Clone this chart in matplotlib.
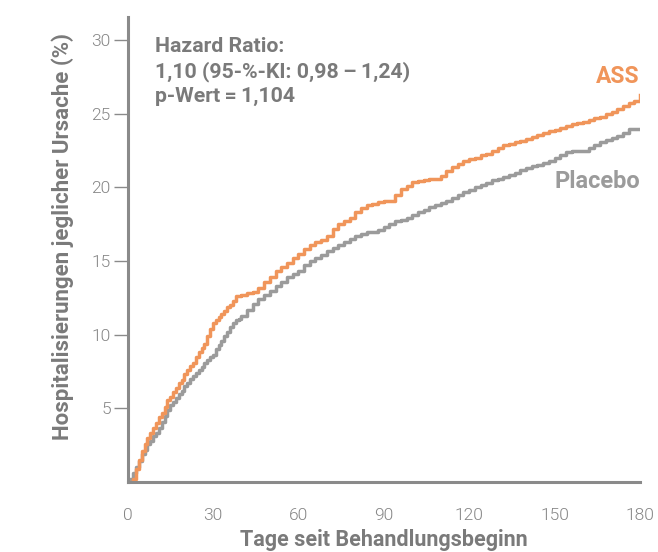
import matplotlib.pyplot as plt

days = list(range(0, 41)) + list(range(42, 181, 2))
ass = [0, 0, 0.2, 0.9, 1.5, 2.1, 2.6, 3.0, 3.3, 3.7,
       4.0, 4.4, 4.7, 5.1, 5.6, 5.8, 6.1, 6.4, 6.7, 6.9,
       7.3, 7.6, 7.9, 8.1, 8.5, 8.8, 9.1, 9.4, 9.9, 10.4,
       10.8, 11.0, 11.2, 11.4, 11.6, 11.9, 12.0, 12.3, 12.6, 12.65,
       12.7,
       12.8, 12.9, 13.2, 13.6, 13.9, 14.3, 14.6, 14.9, 15.2, 15.5,
       15.8, 16.1, 16.3, 16.45, 16.7, 17.2, 17.5, 17.7, 17.9, 18.3,
       18.6, 18.8, 18.9, 19.0, 19.1, 19.1, 19.5, 19.9, 20.1, 20.4,
       20.45, 20.5, 20.55, 20.55, 20.8, 21.1, 21.4, 21.6, 21.8, 21.9,
       22.0, 22.2, 22.3, 22.5, 22.7, 22.85, 22.95, 23.05, 23.15, 23.3,
       23.4, 23.55, 23.7, 23.8, 23.9, 24.05, 24.15, 24.3, 24.35, 24.45,
       24.6, 24.7, 24.8, 25.0, 25.15, 25.35, 25.5, 25.7, 25.9, 26.3]
placebo = [0, 0.2, 0.6, 1.0, 1.4, 1.9, 2.2, 2.6, 2.8, 3.1,
           3.3, 3.7, 4.1, 4.5, 4.9, 5.2, 5.4, 5.7, 6.0, 6.2,
           6.5, 6.7, 7.0, 7.2, 7.4, 7.6, 7.8, 8.1, 8.3, 8.5,
           8.6, 9.0, 9.3, 9.6, 9.9, 10.2, 10.5, 10.8, 11.0, 11.1,
           11.3,
           11.7, 12.1, 12.4, 12.7, 13.0, 13.3, 13.6, 13.9, 14.1, 14.3,
           14.7, 15.0, 15.2, 15.4, 15.7, 15.9, 16.1, 16.3, 16.5, 16.7,
           16.85, 16.95, 17.0, 17.1, 17.3, 17.55, 17.7, 17.8, 17.95, 18.1,
           18.3, 18.5, 18.65, 18.8, 18.95, 19.1, 19.3, 19.5, 19.7, 19.85,
           20.0, 20.15, 20.3, 20.5, 20.6, 20.7, 20.85, 21.0, 21.2, 21.35,
           21.45, 21.55, 21.65, 21.8, 22.0, 22.2, 22.4, 22.45, 22.5, 22.5,
           22.7, 22.9, 23.05, 23.2, 23.35, 23.5, 23.7, 24.0, 24.0, 24.0]
xticks = [0, 30, 60, 90, 120, 150, 180]
yticks = [5, 10, 15, 20, 25, 30]

orange = "#F0955A"
linegray = "#9B9B9B"
textgray = "#7A7A7A"
axisgray = "#8A8A8A"

fig = plt.figure(figsize=(6.58, 5.52), dpi=100)
ax = fig.add_axes([0.1938, 0.1268, 0.7788, 0.8424])

ax.step(days, placebo, where="post", color=linegray, lw=2.5)
ax.step(days, ass, where="post", color=orange, lw=2.5)

ax.set_xlim(0, 180)
ax.set_ylim(0, 31.57)
ax.set_xticks(xticks)
ax.set_yticks(yticks)
ax.spines["top"].set_visible(False)
ax.spines["right"].set_visible(False)
for s in ["left", "bottom"]:
    ax.spines[s].set_color(axisgray)
    ax.spines[s].set_linewidth(2.2)
ax.tick_params(axis="y", length=10, width=1, color=axisgray, pad=2,
               labelsize=12.5, labelcolor="#858585")
ax.tick_params(axis="x", length=0, pad=19, labelsize=12.5, labelcolor="#858585")
for lab in ax.get_xticklabels() + ax.get_yticklabels():
    lab.set_family("Roboto")
    lab.set_fontweight(300)

ax.set_ylabel("Hospitalisierungen jeglicher Ursache (%)", fontsize=16,
              fontweight="bold", color=textgray, family="Roboto")
ax.yaxis.set_label_coords(-0.105, 0.527)
ax.set_xlabel("Tage seit Behandlungsbeginn", fontsize=15.5, fontweight="bold",
              color=textgray, family="Roboto", labelpad=4)

ax.text(9.5, 30.2, "Hazard Ratio:\n1,10 (95-%-KI: 0,98\u2009\u2013\u20091,24)\np-Wert\u2009=\u20091,104",
        fontsize=15.3, fontweight="bold", color=textgray, family="Roboto",
        va="top", ha="left", linespacing=1.33)
ax.text(180, 27.5, "ASS", fontsize=16.5, fontweight="bold", color=orange,
        family="Roboto", ha="right", va="center")
ax.text(180, 20.4, "Placebo", fontsize=17, fontweight="bold", color=linegray,
        family="Roboto", ha="right", va="center")

fig.savefig("out.png", dpi=100)
